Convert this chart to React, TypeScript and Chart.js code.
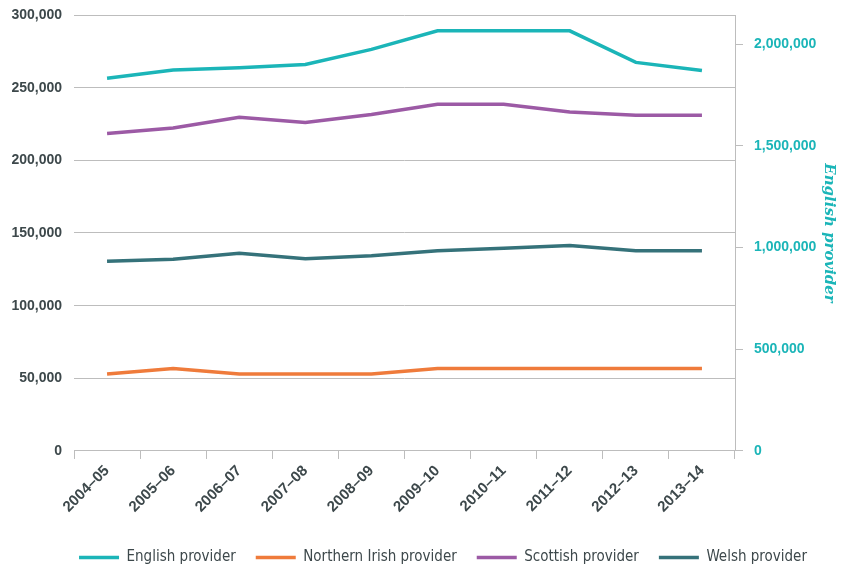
import React, { useEffect, useRef } from "react";
import { Chart, registerables } from "chart.js";

Chart.register(...registerables);

const years = ["2004–05", "2005–06", "2006–07", "2007–08", "2008–09", "2009–10", "2010–11", "2011–12", "2012–13", "2013–14"];
const english = [1832000, 1872000, 1883000, 1900000, 1974000, 2065000, 2065000, 2065000, 1910000, 1870000];
const northernIrish = [52900, 56800, 52900, 52900, 52900, 56800, 56800, 56800, 56800, 56800];
const scottish = [218400, 222300, 229700, 226000, 231500, 238600, 238600, 233300, 231000, 231000];
const welsh = [130500, 131900, 136100, 132200, 134300, 137700, 139500, 141400, 137700, 137700];

const leftMax = 300000;
const leftStep = 50000;
const rightMax = 2142857;
const rightTicks = [0, 500000, 1000000, 1500000, 2000000];

const TEAL = "#1bb5b8";
const ORANGE = "#ef7b3b";
const PURPLE = "#9c5aa5";
const DARKTEAL = "#35727a";
const TEXT = "#3d484b";
const GRID = "#bdbdbd";
const SANS = "'Liberation Sans', Arial, sans-serif";

const legendShift = {
  id: "legendShift",
  afterLayout(chart: any) {
    if (chart.legend) {
      chart.legend.left += 17;
      chart.legend.right += 17;
    }
  },
};

export default function App() {
  const ref = useRef<HTMLCanvasElement | null>(null);
  useEffect(() => {
    if (!ref.current) return;
    const mk = (label: string, data: number[], color: string, axis: string) => ({
      label,
      data,
      borderColor: color,
      backgroundColor: color,
      borderWidth: 3.5,
      pointRadius: 0,
      tension: 0,
      yAxisID: axis,
    });
    const chart = new Chart(ref.current, {
      type: "line",
      data: {
        labels: years,
        datasets: [
          mk("English provider", english, TEAL, "y1"),
          mk("Northern Irish provider", northernIrish, ORANGE, "y"),
          mk("Scottish provider", scottish, PURPLE, "y"),
          mk("Welsh provider", welsh, DARKTEAL, "y"),
        ],
      },
      plugins: [legendShift],
      options: {
        animation: false,
        responsive: false,
        layout: { padding: { left: 10, right: 2, top: 0, bottom: -8 } },
        plugins: {
          tooltip: { enabled: false },
          legend: {
            position: "bottom",
            labels: {
              usePointStyle: true,
              pointStyle: "line",
              pointStyleWidth: 40,
              color: TEXT,
              padding: 20,
              font: { family: "'Liberation Sans Narrow', 'DejaVu Sans Condensed', Arial, sans-serif", size: 15 },
            },
          },
        },
        scales: {
          x: {
            offset: true,
            grid: { offset: true, drawOnChartArea: false, drawTicks: true, tickLength: 8, color: GRID },
            border: { color: GRID },
            afterFit: (scale: any) => {
              scale.height += 11;
            },
            ticks: {
              maxRotation: 45,
              minRotation: 45,
              color: TEXT,
              font: { family: SANS, size: 15, weight: "bold" },
            },
          },
          y: {
            position: "left",
            min: 0,
            max: leftMax,
            grid: { color: GRID, drawTicks: false },
            border: { display: false },
            afterFit: (scale: any) => {
              scale.width = 64;
              scale.paddingTop = 15;
            },
            ticks: {
              stepSize: leftStep,
              padding: 12,
              color: TEXT,
              font: { family: SANS, size: 14, weight: "bold" },
              callback: (v: any) => Number(v).toLocaleString("en-US"),
            },
          },
          y1: {
            position: "right",
            min: 0,
            max: rightMax,
            grid: { drawOnChartArea: false, drawTicks: true, tickLength: 8, color: GRID },
            border: { color: GRID },
            afterBuildTicks: (scale: any) => {
              scale.ticks = rightTicks.map((value) => ({ value }));
            },
            afterFit: (scale: any) => {
              scale.width = 107;
              scale.paddingTop = 15;
            },
            ticks: {
              padding: 11,
              color: TEAL,
              font: { family: SANS, size: 14, weight: "bold" },
              callback: (v: any) => Number(v).toLocaleString("en-US"),
            },
            title: {
              display: true,
              text: "English provider",
              color: TEAL,
              padding: { top: 4, bottom: 4 },
              font: { family: "'DejaVu Serif', 'Liberation Serif', serif", size: 15, style: "italic", weight: "bold" },
            },
          },
        },
      },
    } as any);
    return () => chart.destroy();
  }, []);
  return (
    <div style={{ position: "fixed", left: 0, top: 0, width: 844, height: 567, background: "#fff" }}>
      <canvas ref={ref} width={844} height={567} style={{ display: "block" }} />
    </div>
  );
}
